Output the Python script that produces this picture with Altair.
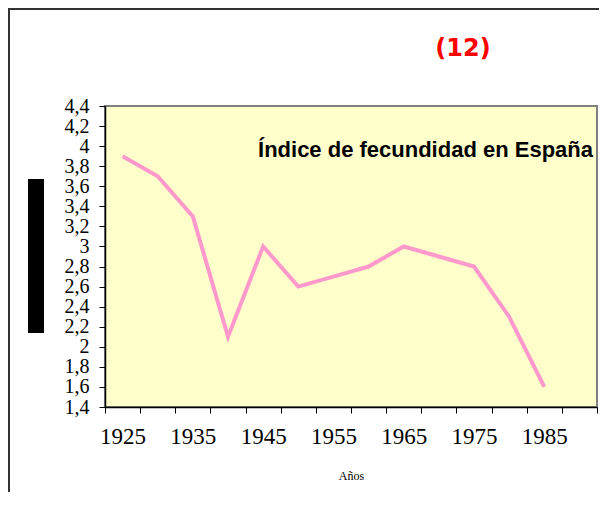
import altair as alt
import pandas as pd

years = [1925, 1930, 1935, 1940, 1945, 1950, 1955, 1960, 1965, 1970, 1975, 1980, 1985]
fertility = [3.9, 3.7, 3.3, 2.1, 3.0, 2.6, 2.7, 2.8, 3.0, 2.9, 2.8, 2.3, 1.6]
x_edges = [1922.5 + 5 * i for i in range(15)]
y_ticks = [round(1.4 + 0.2 * i, 1) for i in range(16)]
chart_title = "Índice de fecundidad en España"
number_label = "(12)"
x_title = "Años"

df = pd.DataFrame({"year": years, "value": fertility})
one = pd.DataFrame({"a": [0]})

W, H = 492, 301

x_scale = alt.Scale(domain=[1922.5, 1992.5], nice=False, zero=False)
y_scale = alt.Scale(domain=[1.4, 4.4], nice=False, zero=False)

line = alt.Chart(df).mark_line(color="#FF99CC", strokeWidth=4).encode(
    x=alt.X("year:Q", scale=x_scale, axis=alt.Axis(
        values=x_edges, title=x_title, grid=False,
        labelExpr="((round(datum.value + 2.5) - 1925) % 10 == 0 && datum.value < 1990) ? '' + round(datum.value + 2.5) : ''",
        labelOffset=W / 28, labelOverlap=False, labelBound=False, labelFlush=False,
        labelFont="Liberation Serif", labelFontSize=23, labelColor="black",
        labelPadding=12, tickSize=6, tickColor="black", domainColor="black", domainWidth=1.5,
        titleFont="Liberation Serif", titleFontSize=12, titleFontWeight="normal",
        titleColor="black", titlePadding=22)),
    y=alt.Y("value:Q", scale=y_scale, axis=alt.Axis(
        values=y_ticks, title=None, grid=False,
        labelExpr="replace(format(datum.value, '.1~f'), '.', ',')",
        labelOverlap=False, labelBound=False, labelFlush=False,
        labelFont="Liberation Serif", labelFontSize=20, labelColor="black",
        labelPadding=10, tickSize=6, tickColor="black", domainColor="black", domainWidth=1.5)),
)

title_txt = alt.Chart(one).mark_text(
    text=chart_title, font="Liberation Sans", fontSize=22, fontWeight="bold",
    align="right", baseline="alphabetic", color="black"
).encode(x=alt.value(488), y=alt.value(51))

num_txt = alt.Chart(one).mark_text(
    text=number_label, font="DejaVu Sans", fontSize=24, fontWeight="bold",
    align="center", baseline="middle", color="#FF0000"
).encode(x=alt.value(358), y=alt.value(-57))

black_box = alt.Chart(one).mark_rect(color="black").encode(
    x=alt.value(-77), x2=alt.value(-61), y=alt.value(73), y2=alt.value(227))

frame_left = alt.Chart(one).mark_rule(color="#333333", strokeWidth=2).encode(
    x=alt.value(-96), y=alt.value(-97), y2=alt.value(H + 100))
frame_top = alt.Chart(one).mark_rule(color="#333333", strokeWidth=2).encode(
    y=alt.value(-97), x=alt.value(-97), x2=alt.value(W + 10))

chart = alt.layer(line, title_txt, num_txt, black_box, frame_left, frame_top).properties(
    width=W, height=H,
    autosize=alt.AutoSizeParams(type="none"),
    padding={"left": 97, "top": 98, "right": 2, "bottom": 85},
).configure_view(fill="#FFFFCC", stroke="#808080", strokeWidth=2)

chart.save("out.html", embed_options={"renderer": "svg", "actions": False})
